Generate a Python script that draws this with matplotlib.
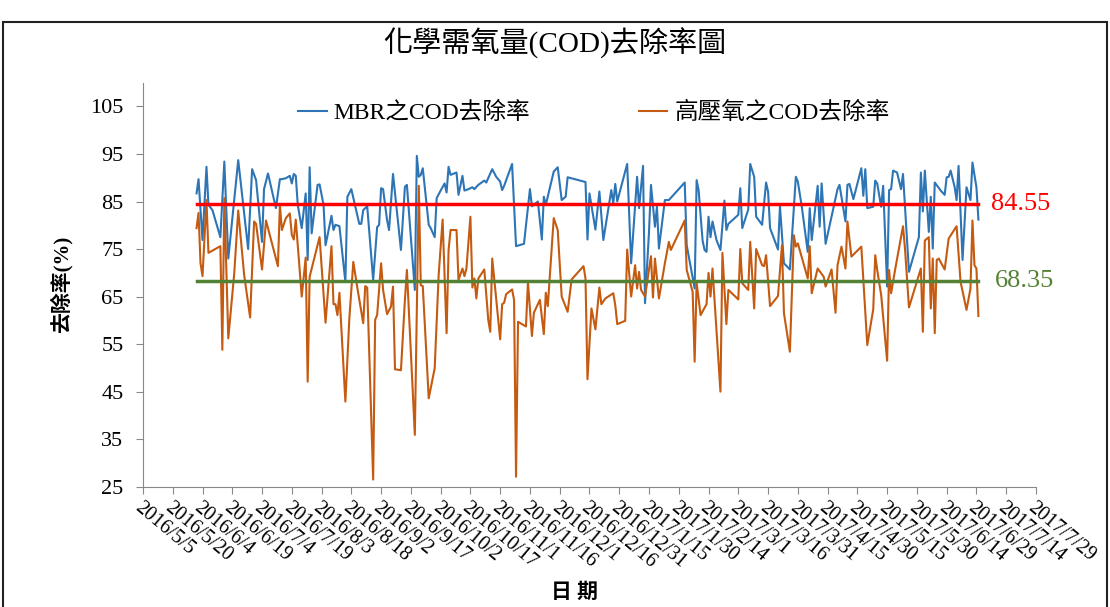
import matplotlib
matplotlib.use('Agg')
import matplotlib.pyplot as plt
from matplotlib.patches import Rectangle
import numpy as np
import pandas as pd

plt.rcParams['font.family'] = ['Liberation Serif', 'Noto Sans CJK TC']

# days counted from 2016/5/5
start = pd.Timestamp('2016-05-05')
end = pd.Timestamp('2017-07-29')

mbr_day = [27, 28, 30, 32, 33, 35, 39, 41, 43, 48, 53, 55, 57, 60, 61, 63, 67, 69, 70, 72,
           74, 75, 76, 77, 78, 80, 82, 83, 84, 85, 88, 89, 91, 92, 95, 96, 97, 99, 102, 103,
           105, 107, 109, 110, 111, 113, 116, 118, 119, 120, 121, 123, 124, 126, 130, 132, 133, 137, 138, 139,
           140, 141, 144, 145, 147, 148, 150, 152, 153, 154, 155, 158,
           159, 161, 162, 164, 165, 166, 167, 169, 172, 173, 176, 178, 180, 181, 182, 186, 188, 192, 195, 196,
           199, 201, 202, 203, 207, 209, 211, 213, 214, 223, 224, 225, 228, 230, 232, 236, 237, 238, 239, 242,
           244, 246, 249, 250, 252, 253, 255, 256, 258, 259, 260, 263, 265, 273, 274, 278, 279, 280, 282, 283,
           284, 285, 286, 287, 289,
           291, 293, 294, 295, 300, 301, 302, 305, 306, 308, 309, 312, 314, 315, 316, 320, 321, 323, 326, 329,
           330, 332, 335, 336, 337, 340, 341, 342, 344, 350, 351, 354, 355, 356, 358, 362, 363, 364, 365, 368,
           369, 370, 372, 373, 375, 376, 377, 378, 380, 382, 383, 386, 391, 392, 393, 394, 396, 397, 398, 399,
           402, 404, 405, 406, 407, 409, 410, 411, 413, 415, 417, 418, 420, 421]
mbr_val = [86.7, 89.7, 76.9, 92.3, 84.3, 83.2, 77.5, 93.4, 73.0, 93.7, 75.0, 91.8, 89.5, 76.5, 87.6, 90.9, 83.6, 89.7, 89.7, 89.9,
           90.4, 88.8, 90.8, 90.4, 84.3, 79.4, 86.7, 72.7, 92.2, 78.3, 88.5, 88.6, 84.3, 75.8, 82.0, 79.0, 80.1, 79.8, 68.1, 86.0,
           87.6, 83.9, 80.3, 80.3, 83.2, 84.0, 68.5, 79.6, 80.1, 87.8, 87.6, 81.1, 79.0, 90.8, 74.8, 88.1, 88.5, 66.4, 94.6, 90.2,
           90.6, 92.0, 80.1, 79.4, 77.5, 85.7, 87.3, 88.8, 86.9, 92.3, 90.6, 91.1,
           86.4, 90.4, 87.3, 87.6, 87.8, 88.0, 87.6, 88.5, 89.4, 89.0, 91.8, 90.2, 89.2, 87.4, 88.3, 92.9, 75.6, 76.1, 87.6, 84.0,
           85.0, 77.0, 86.0, 84.3, 91.3, 92.2, 85.3, 86.0, 90.1, 89.1, 77.0, 86.7, 79.1, 87.1, 76.9, 87.4, 84.6, 88.7, 85.0, 89.7,
           92.9, 72.0, 90.2, 83.6, 92.5, 63.6, 78.6, 88.5, 79.7, 83.9, 75.1, 85.3, 85.3, 89.0, 75.8, 66.7, 89.5, 87.4, 76.8, 74.8,
           74.4, 81.8, 77.5, 80.8, 76.9,
           74.8, 85.2, 79.0, 80.3, 82.2, 87.8, 79.4, 83.3, 92.9, 90.2, 81.8, 80.1, 89.0, 87.1, 79.4, 74.9, 84.0, 72.0, 70.7, 90.2,
           89.2, 83.9, 74.4, 83.6, 76.9, 88.3, 79.7, 88.8, 76.1, 87.6, 88.5, 80.8, 88.5, 88.7, 85.5, 92.0, 86.2, 91.8, 83.6, 83.9,
           89.4, 88.8, 83.9, 88.3, 67.1, 87.4, 87.6, 91.5, 91.1, 87.6, 90.8, 70.2, 77.5, 91.1, 82.9, 91.5, 78.6, 86.0, 75.1, 89.0,
           87.3, 86.4, 90.1, 90.2, 91.5, 88.1, 85.3, 92.5, 72.7, 88.0, 85.3, 93.2, 88.0, 81.2]

hpo_day = [27, 28, 29, 30, 32, 33, 39, 40, 41, 43, 46, 48, 51, 54, 56, 57, 60, 62, 68, 69,
           70, 72, 74, 75, 76, 77, 80, 82, 83, 84, 89, 92, 95, 96, 97, 98, 99, 102, 104, 106,
           108, 111, 112, 113, 116, 117, 118, 120, 121, 123, 125, 126, 127, 130, 132, 133, 137, 139, 140, 141,
           144, 147, 149, 151, 153, 154, 155, 158,
           159, 161, 162, 163, 165, 166, 167, 168, 169, 172, 174, 175, 176, 178, 180, 181, 182, 183, 186, 187,
           188, 189, 193, 194, 196, 197, 200, 202, 203, 204, 207, 209, 211, 214, 216, 222, 223, 224, 226, 228,
           230, 231, 233, 237, 238, 239, 243, 244, 246, 248, 249, 250, 251, 253, 256, 257, 258, 260, 263, 265,
           266, 273, 274, 277, 278, 279, 281, 284, 285, 286, 287,
           291, 292, 294, 295, 300, 301, 302, 305, 306, 308, 309, 312, 313, 314, 316, 320, 322, 323, 326, 328,
           329, 330, 335, 336, 337, 340, 343, 344, 347, 349, 350, 352, 354, 355, 357, 362, 365, 368, 369, 370,
           372, 375, 376, 377, 379, 383, 384, 386, 392, 393, 394, 396, 397, 398, 399, 400, 401, 404, 406, 410,
           412, 415, 417, 418, 419, 420, 421]
hpo_val = [79.4, 82.6, 72.0, 69.3, 85.3, 74.2, 75.6, 53.8, 85.7, 56.2, 69.9, 83.1, 69.5, 60.6, 80.8, 80.3, 70.7, 81.0, 71.4, 84.3,
           79.0, 81.5, 82.5, 78.0, 77.0, 81.2, 65.0, 73.2, 47.1, 69.2, 77.5, 59.5, 75.6, 63.4, 63.4, 61.1, 65.8, 42.9, 60.4, 72.3,
           66.9, 59.4, 67.2, 66.9, 26.5, 60.1, 61.1, 72.0, 66.4, 61.3, 62.9, 67.1, 49.7, 49.5, 64.3, 70.6, 35.9, 88.3, 67.4, 67.2,
           43.6, 49.9, 69.5, 81.2, 57.3, 74.8, 79.0, 79.0,
           68.5, 70.9, 69.3, 70.9, 81.8, 66.9, 68.8, 64.6, 68.8, 70.7, 60.1, 57.6, 73.0, 64.6, 56.0, 63.4, 63.7, 65.5, 66.5, 64.3,
           27.1, 59.7, 58.7, 68.1, 56.7, 61.6, 64.3, 57.1, 65.8, 63.0, 81.5, 79.0, 65.0, 61.8, 68.6, 71.4, 68.8, 47.6, 62.5, 58.1,
           66.9, 63.4, 64.6, 65.7, 63.2, 59.2, 59.9, 74.9, 65.0, 71.6, 66.7, 70.2, 66.4, 65.0, 73.5, 64.8, 73.0, 64.6, 72.0, 76.5,
           74.8, 81.0, 70.6, 66.0, 51.3, 67.9, 61.1, 63.4, 70.0, 65.0, 70.9,
           45.0, 74.2, 59.2, 66.4, 64.4, 75.0, 67.8, 66.4, 76.5, 62.5, 75.0, 71.6, 71.4, 73.7, 63.0, 65.1, 75.8, 61.5, 53.4, 77.9,
           75.5, 76.2, 68.8, 75.6, 65.7, 70.9, 69.2, 67.1, 70.7, 61.6, 71.6, 75.5, 70.9, 80.8, 73.4, 75.5, 54.8, 62.3, 73.7, 70.6,
           65.3, 51.5, 70.6, 65.7, 70.6, 79.8, 75.1, 62.7, 70.9, 57.6, 76.8, 77.5, 62.5, 73.0, 57.3, 72.7, 73.0, 70.7, 77.2, 79.8,
           68.1, 62.2, 66.7, 81.0, 71.6, 70.9, 60.9]

mbr_mean = 84.55
hpo_mean = 68.35

mbr_dates = start + pd.to_timedelta(mbr_day, unit='D')
hpo_dates = start + pd.to_timedelta(hpo_day, unit='D')
tick_dates = pd.date_range(start, end, freq='15D')

fig = plt.figure(figsize=(11.1, 6.07), dpi=100)
ax = fig.add_axes([0.1288, 0.1982, 0.8045, 0.6656])

ax.plot(mbr_dates, mbr_val, color='#2E75B6', lw=1.5, label='MBR之COD去除率')
ax.plot(hpo_dates, hpo_val, color='#C55A11', lw=1.5, label='高壓氧之COD去除率')

first = min(mbr_dates[0], hpo_dates[0])
last = max(mbr_dates[-1], hpo_dates[-1])
ax.plot([first, last], [mbr_mean, mbr_mean], color='#FF0000', lw=2.5)
ax.plot([first, last], [hpo_mean, hpo_mean], color='#548235', lw=2.5)
ax.annotate(f'{mbr_mean:.2f}', xy=(last, mbr_mean), xytext=(9, 0), textcoords='offset points',
            va='center', ha='left', color='#FF0000', fontsize=19)
ax.annotate(f'{hpo_mean:.2f}', xy=(last, hpo_mean), xytext=(12, 0), textcoords='offset points',
            va='center', ha='left', color='#548235', fontsize=19)

ax.set_xlim(start, end)
ax.set_ylim(25, 110)
ax.set_yticks(np.arange(25, 106, 10))
ax.set_xticks(tick_dates)
ax.set_xticklabels([f'{d.year}/{d.month}/{d.day}' for d in tick_dates],
                   rotation=-40, ha='left', va='top', rotation_mode='anchor', fontsize=14.5)
ax.tick_params(axis='y', labelsize=16, length=5, pad=9, color='#888888')
ax.tick_params(axis='x', length=5, color='#888888')

for s in ['top', 'right']:
    ax.spines[s].set_visible(False)
for s in ['left', 'bottom']:
    ax.spines[s].set_color('#888888')

ax.set_ylabel('去除率(%)', fontsize=15, fontweight='bold', labelpad=13)
fig.text(0.518, 0.023, '日 期', fontsize=15, fontweight='bold', ha='center', va='center')
fig.text(0.5, 0.929, '化學需氧量(COD)去除率圖', fontsize=21, ha='center', va='center')

ax.legend(loc='center', bbox_to_anchor=(0.505, 0.925), ncol=2, frameon=False,
          fontsize=17, columnspacing=4.6, handlelength=1.2, handletextpad=0.3)

fig.patches.append(Rectangle((0.003, -0.05), 0.994, 1.013, transform=fig.transFigure,
                             fill=False, edgecolor='#222222', lw=1.5))

fig.savefig('out.png', dpi=100)
